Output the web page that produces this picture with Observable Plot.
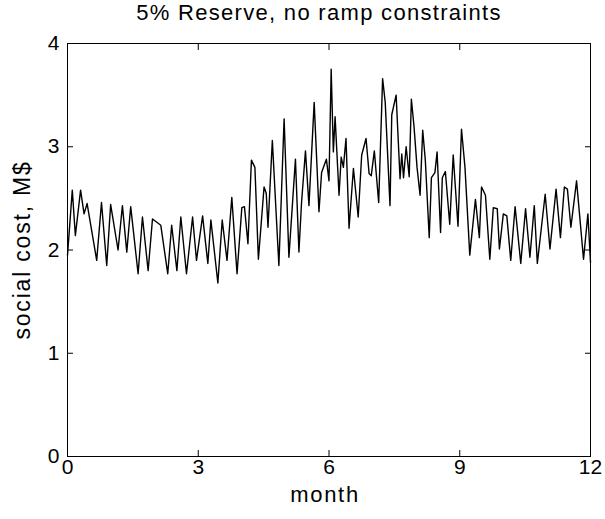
<!DOCTYPE html>
<html><head><meta charset="utf-8">
<script src="https://cdn.jsdelivr.net/npm/d3@7"></script>
<script src="https://cdn.jsdelivr.net/npm/@observablehq/plot@0.6"></script>
<style>
html,body{margin:0;padding:0;background:#fff} svg{display:block}
.ttl text{letter-spacing:1.3px}
.xlab text{letter-spacing:1.7px}
.ylab text{letter-spacing:1.8px}
</style>
</head><body><div id="chart"></div>
<script>
const chartTitle = "5% Reserve, no ramp constraints";
const xLabel = "month";
const yLabel = "social cost, M$";
const xTicks = [0, 3, 6, 9, 12];
const yTicks = [0, 1, 2, 3, 4];

const months = [
  0.00, 0.11, 0.18, 0.30, 0.38, 0.45, 0.67, 0.78, 0.90, 0.99,
  1.16, 1.26, 1.36, 1.45, 1.62, 1.72, 1.85, 1.95, 2.14, 2.30,
  2.39, 2.51, 2.60, 2.73, 2.87, 2.96, 3.10, 3.22, 3.29, 3.45,
  3.55, 3.66, 3.77, 3.89, 4.00, 4.06, 4.14, 4.22, 4.30, 4.38,
  4.51, 4.56, 4.60, 4.70, 4.85, 4.97, 5.08, 5.23, 5.31, 5.37,
  5.46, 5.54, 5.66, 5.77, 5.83, 5.94, 6.00, 6.05, 6.10, 6.14,
  6.23, 6.28, 6.33, 6.39, 6.46, 6.56, 6.67, 6.75, 6.85, 6.92,
  6.97, 7.04, 7.14, 7.23, 7.29, 7.40, 7.44, 7.54, 7.63, 7.67,
  7.71, 7.77, 7.84, 7.89, 7.95, 8.02, 8.09, 8.15, 8.21, 8.30,
  8.35, 8.43, 8.48, 8.56, 8.60, 8.67, 8.77, 8.85, 8.96, 9.04,
  9.12, 9.23, 9.36, 9.45, 9.50, 9.59, 9.69, 9.77, 9.86, 9.91,
  10.00, 10.08, 10.17, 10.27, 10.40, 10.51, 10.61, 10.71, 10.78, 10.96,
  11.07, 11.21, 11.31, 11.40, 11.47, 11.55, 11.68, 11.84, 11.94, 12.00
];
const cost = [
  1.95, 2.58, 2.14, 2.58, 2.35, 2.45, 1.90, 2.46, 1.85, 2.44,
  2.00, 2.43, 1.98, 2.42, 1.77, 2.32, 1.80, 2.30, 2.24, 1.77,
  2.24, 1.80, 2.32, 1.77, 2.32, 1.90, 2.33, 1.87, 2.29, 1.68,
  2.29, 1.90, 2.51, 1.77, 2.41, 2.42, 2.06, 2.87, 2.80, 1.91,
  2.61, 2.55, 2.22, 3.06, 1.85, 3.27, 1.93, 2.88, 1.98, 2.46,
  2.96, 2.43, 3.43, 2.37, 2.75, 2.88, 2.67, 3.75, 2.95, 3.29,
  2.53, 2.90, 2.80, 3.08, 2.21, 2.79, 2.32, 2.92, 3.08, 2.74,
  2.72, 2.96, 2.46, 3.66, 3.43, 2.43, 3.31, 3.50, 2.69, 2.93,
  2.70, 3.00, 2.71, 3.46, 3.20, 2.80, 2.53, 3.16, 2.87, 2.12,
  2.70, 2.75, 2.95, 2.17, 2.70, 2.76, 2.25, 2.92, 2.23, 3.17,
  2.80, 1.95, 2.49, 2.12, 2.61, 2.53, 1.91, 2.41, 2.40, 2.01,
  2.35, 2.33, 1.90, 2.42, 1.87, 2.40, 1.93, 2.43, 1.87, 2.54,
  2.01, 2.59, 2.12, 2.61, 2.59, 2.22, 2.67, 1.91, 2.35, 1.88
];

const data = months.map((m, i) => ({month: m, cost: cost[i]}));
const font = "'Liberation Sans', Arial, Helvetica, sans-serif";
const blank = () => "";
const plain = d => String(d);

const chart = Plot.plot({
  width: 605,
  height: 519,
  marginLeft: 67,
  marginRight: 15,
  marginTop: 43,
  marginBottom: 63,
  style: {fontFamily: font, fontSize: "21px", color: "#000", background: "#fff"},
  x: {domain: [0, 12], ticks: xTicks},
  y: {domain: [0, 4], ticks: yTicks},
  marks: [
    Plot.axisX({ticks: xTicks, tickSize: 0, tickPadding: 3, tickFormat: plain, label: null, fontSize: 21}),
    Plot.axisX({ticks: xTicks, tickSize: 6, dy: -6, tickFormat: blank, label: null}),
    Plot.axisX({anchor: "top", ticks: xTicks, tickSize: 6, dy: 6, tickFormat: blank, label: null}),
    Plot.axisY({ticks: yTicks, tickSize: 0, tickPadding: 8, tickFormat: plain, label: null, fontSize: 21}),
    Plot.axisY({ticks: yTicks, tickSize: 6, dx: 6, tickFormat: blank, label: null}),
    Plot.axisY({anchor: "right", ticks: yTicks, tickSize: 6, dx: -6, tickFormat: blank, label: null}),
    Plot.line(data, {x: "month", y: "cost", stroke: "#000", strokeWidth: 1.4}),
    Plot.frame({stroke: "#000", strokeWidth: 1}),
    Plot.text([chartTitle], {frameAnchor: "top", dy: -39, dx: -10, text: d => d, fontSize: 22, className: "ttl"}),
    Plot.text([xLabel], {frameAnchor: "bottom", dy: 45, dx: -4, text: d => d, fontSize: 22, className: "xlab"}),
    Plot.text([yLabel], {frameAnchor: "left", dx: -45, rotate: -90, textAnchor: "middle", text: d => d, fontSize: 23, className: "ylab"})
  ]
});
document.getElementById("chart").append(chart);
</script>
</body></html>
